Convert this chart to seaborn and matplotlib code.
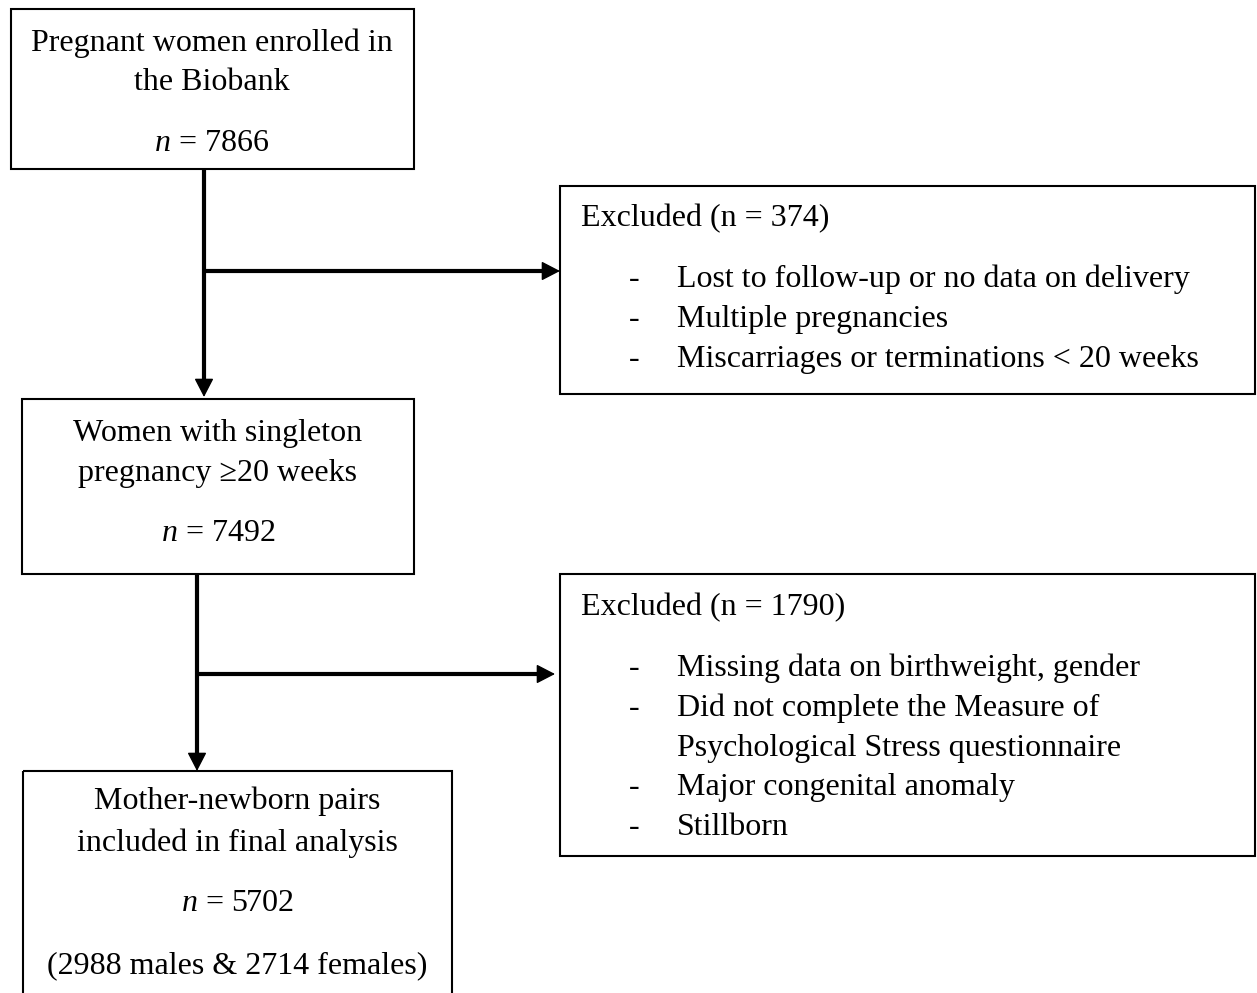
import matplotlib
matplotlib.use("Agg")
import matplotlib.pyplot as plt
import numpy as np
import seaborn as sns
from matplotlib.patches import Rectangle

# flowchart content
enrolled_lines = ["Pregnant women enrolled in", "the Biobank"]
enrolled_n = 7866
singleton_lines = ["Women with singleton", "pregnancy \u226520 weeks"]
singleton_n = 7492
final_lines = ["Mother-newborn pairs", "included in final analysis"]
final_n = 5702
final_split = "(2988 males & 2714 females)"

excluded1_n = 374
excluded1_reasons = [
    "Lost to follow-up or no data on delivery",
    "Multiple pregnancies",
    "Miscarriages or terminations < 20 weeks",
]
excluded2_n = 1790
excluded2_reasons = [
    "Missing data on birthweight, gender",
    "Did not complete the Measure of\nPsychological Stress questionnaire",
    "Major congenital anomaly",
    "Stillborn",
]

sns.set_theme(style="white")
plt.rcParams["font.family"] = ["Liberation Serif", "DejaVu Serif"]
plt.rcParams["text.color"] = "black"
plt.rcParams["mathtext.fontset"] = "custom"
plt.rcParams["mathtext.rm"] = "Liberation Serif"
plt.rcParams["mathtext.it"] = "Liberation Serif:italic"

FS = 23
BOX_LW = 1.5
ARROW_LW = 3

fig = plt.figure(figsize=(12.57, 9.93), dpi=100)
ax = fig.add_axes([0, 0, 1, 1])
ax.set_xlim(0, 1257)
ax.set_ylim(993, 0)
ax.axis("off")


def box(x0, y0, x1, y1):
    ax.add_patch(Rectangle((x0, y0), x1 - x0, y1 - y0, fill=False,
                           edgecolor="black", lw=BOX_LW))


def arrow(start, end):
    # thick shaft that stops under the head, then a filled triangular head
    s, e = np.array(start, float), np.array(end, float)
    d = (e - s) / np.linalg.norm(e - s)
    stop = e - d * 8
    ax.plot([s[0], stop[0]], [s[1], stop[1]], color="black",
            lw=ARROW_LW, solid_capstyle="butt")
    ax.annotate("", xy=end, xytext=start,
                arrowprops=dict(arrowstyle="-|>,head_length=0.58,head_width=0.3",
                                lw=1, color="black", mutation_scale=20,
                                shrinkA=0, shrinkB=0))


def centered_block(cx, baselines, lines):
    for y, s in zip(baselines, lines):
        ax.text(cx, y + 1, s, ha="center", va="baseline", fontsize=FS)


def excluded_block(x0, y_title, n, reasons, step=40):
    ax.text(x0 + 21, y_title + 1, f"Excluded (n = {n})", ha="left", va="baseline", fontsize=FS)
    y = y_title + 62
    for r in reasons:
        parts = r.split("\n")
        ax.text(x0 + 74, y, "-", ha="center", va="baseline", fontsize=FS)
        for p in parts:
            ax.text(x0 + 117, y, p, ha="left", va="baseline", fontsize=FS)
            y += step


# main boxes
box(11, 9, 414, 169)
centered_block(212, [50, 89, 150], enrolled_lines + [f"$n$ = {enrolled_n}"])

box(22, 399, 414, 574)
centered_block(218, [440, 480, 540], singleton_lines + [f"$n$ = {singleton_n}"])

box(23, 771, 452, 1010)
centered_block(237, [808, 850, 910, 972], final_lines + [f"$n$ = {final_n}", final_split])

# exclusion boxes
box(560, 186, 1255, 394)
excluded_block(560, 225, excluded1_n, excluded1_reasons)

box(560, 574, 1255, 856)
excluded_block(560, 614, excluded2_n, excluded2_reasons, step=39.8)

# connectors
arrow((204, 169), (204, 397))
arrow((204, 271), (560, 271))
arrow((197, 574), (197, 771))
arrow((197, 674), (555, 674))

fig.savefig("out.png", dpi=100)
